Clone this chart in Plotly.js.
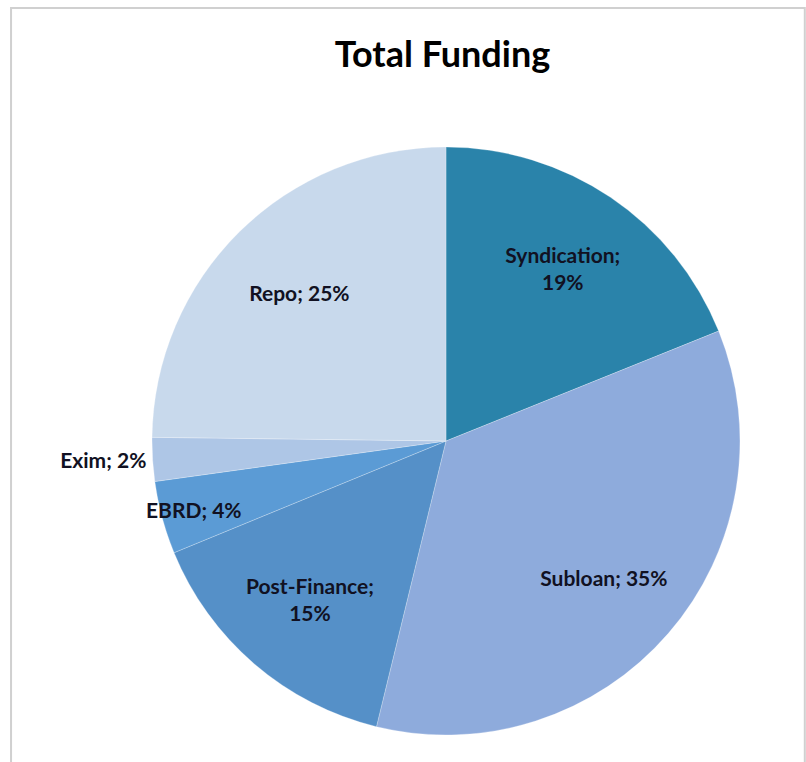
<!DOCTYPE html>
<html>
<head>
<meta charset="utf-8">
<script src="https://cdn.plot.ly/plotly-3.0.1.min.js"></script>
<style>html,body{margin:0;padding:0;background:#fff;}#chart{width:806px;height:762px;}</style>
</head>
<body>
<div id="chart"></div>
<script>
const categories = ["Syndication", "Subloan", "Post-Finance", "EBRD", "Exim", "Repo"];
const values = [18.9, 34.9, 15.0, 4.0, 2.4, 24.8];
const sliceColors = ["#2a83aa", "#8eabdc", "#5590c8", "#5b9bd5", "#aec6e6", "#c8d9ec"];
const labelTexts = ["Syndication;<br>%{percent:.0%}", "Subloan; %{percent:.0%}", "Post-Finance;<br>%{percent:.0%}", "EBRD; %{percent:.0%}", "Exim; %{percent:.0%}", "Repo; %{percent:.0%}"];
const positions = ["inside", "inside", "inside", "inside", "outside", "inside"];

const pieDomain = {x: [0.1886, 0.9181], y: [0.0354, 0.8071]};
const labelFont = {family: "Lato, 'Open Sans', sans-serif", size: 21, color: "#111122", weight: "bold"};

const slices = {
  type: "pie",
  labels: categories,
  values: values,
  sort: false,
  direction: "clockwise",
  rotation: 0,
  marker: {colors: sliceColors, line: {color: "rgba(255,255,255,0.5)", width: 0.5}},
  textinfo: "none",
  domain: pieDomain,
  showlegend: false,
  hoverinfo: "skip",
  automargin: false
};

const labelRing = {
  type: "pie",
  labels: categories,
  values: values,
  sort: false,
  direction: "clockwise",
  rotation: 0,
  hole: 0.42,
  marker: {colors: categories.map(() => "rgba(0,0,0,0)"), line: {width: 0}},
  texttemplate: labelTexts,
  textposition: positions,
  insidetextorientation: "horizontal",
  textfont: labelFont,
  insidetextfont: labelFont,
  outsidetextfont: labelFont,
  domain: pieDomain,
  showlegend: false,
  hoverinfo: "skip",
  automargin: false
};

const layout = {
  width: 806,
  height: 762,
  margin: {l: 0, r: 0, t: 0, b: 0},
  paper_bgcolor: "#ffffff",
  uniformtext: {mode: "show", minsize: 21},
  title: {text: "<b>Total Funding</b>", x: 0.549, xanchor: "center", y: 0.928, yanchor: "middle",
          font: {family: "Lato, 'Open Sans', sans-serif", size: 36, color: "#000000"}},
  shapes: [
    {type: "rect", xref: "paper", yref: "paper", x0: 0.0137, x1: 0.9985, y0: -0.05, y1: 0.9895,
     line: {color: "#d0d0d0", width: 2}, fillcolor: "rgba(0,0,0,0)"}
  ],
  showlegend: false
};

Plotly.newPlot("chart", [slices, labelRing], layout, {displayModeBar: false, staticPlot: true});
</script>
</body>
</html>
